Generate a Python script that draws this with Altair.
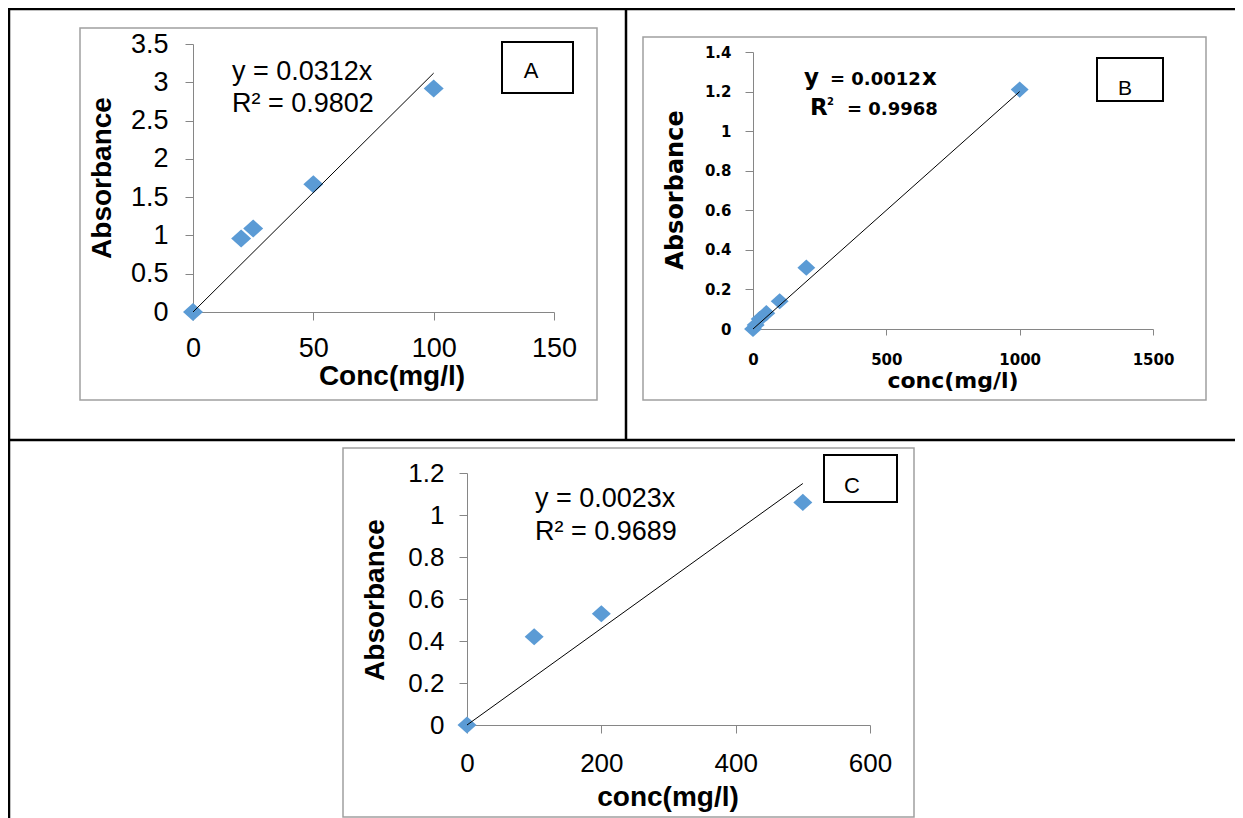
import altair as alt
import pandas as pd

# ---------------- data ----------------
# Panel A
a_conc = [0, 20, 25, 50, 100]
a_abs = [0, 0.96, 1.09, 1.67, 2.92]
a_slope = 0.0312
a_xticks = [0, 50, 100, 150]
a_yticks = [0, 0.5, 1, 1.5, 2, 2.5, 3, 3.5]

# Panel B
b_conc = [0, 10, 25, 50, 100, 200, 1000]
b_abs = [0, 0.02, 0.05, 0.08, 0.14, 0.31, 1.21]
b_slope = 0.0012
b_xticks = [0, 500, 1000, 1500]
b_yticks = [0, 0.2, 0.4, 0.6, 0.8, 1, 1.2, 1.4]

# Panel C
c_conc = [0, 100, 200, 500]
c_abs = [0, 0.42, 0.53, 1.06]
c_slope = 0.0023
c_xticks = [0, 200, 400, 600]
c_yticks = [0, 0.2, 0.4, 0.6, 0.8, 1, 1.2]

# ---------------- layout constants ----------------
W, H = 1227, 810
BLUE = "#5B9BD5"
AXIS_GRAY = "#868686"
FRAME_GRAY = "#a0a0a0"
ARIAL = "Liberation Sans"
TAHOMA = "DejaVu Sans"
DIAMOND = "M-1,0L0,-0.9L1,0L0,0.9Z"

dummy = alt.Data(values=[{"k": 0}])


def panel(conc, ab, slope, xticks, yticks, xrange, yrange, size,
          font, weight, fsize, ytick, ypad, xtick, xpad):
    pts = pd.DataFrame({"conc": conc, "abs": ab})
    xmax = max(conc)
    trend = pd.DataFrame({"conc": [0, xmax], "abs": [0, slope * xmax]})
    xs = alt.Scale(domain=[xticks[0], xticks[-1]], range=xrange, nice=False, zero=False)
    ys = alt.Scale(domain=[yticks[0], yticks[-1]], range=yrange, nice=False, zero=False)
    common = dict(grid=False, domainColor=AXIS_GRAY, tickColor=AXIS_GRAY,
                  domainWidth=1, tickWidth=1, labelFont=font, labelFontSize=fsize,
                  labelFontWeight=weight, labelColor="black", title=None,
                  format="~r", labelOverlap=False, labelFlush=False)
    xaxis = alt.Axis(values=xticks, orient="bottom", offset=yrange[0] - H,
                     tickSize=xtick, labelPadding=xpad, **common)
    yaxis = alt.Axis(values=yticks, orient="left", offset=-xrange[0],
                     tickSize=ytick, labelPadding=ypad, **common)
    p = alt.Chart(pts).mark_point(shape=DIAMOND, filled=True, opacity=1,
                                   color=BLUE, size=size).encode(
        x=alt.X("conc:Q", scale=xs, axis=xaxis),
        y=alt.Y("abs:Q", scale=ys, axis=yaxis),
    )
    l = alt.Chart(trend).mark_line(color="black", strokeWidth=1).encode(
        x=alt.X("conc:Q", scale=xs, axis=None),
        y=alt.Y("abs:Q", scale=ys, axis=None),
    )
    return [p, l]


def txt(s, x, y, size, font=ARIAL, weight="normal", align="left",
        baseline="alphabetic", angle=0):
    return alt.Chart(dummy).mark_text(
        align=align, baseline=baseline, font=font, fontSize=size,
        fontWeight=weight, angle=angle, color="black"
    ).encode(x=alt.value(x), y=alt.value(y), text=alt.value(s))


def box(x1, y1, x2, y2, stroke, width, fill):
    return alt.Chart(dummy).mark_rect(fill=fill, stroke=stroke, strokeWidth=width).encode(
        x=alt.value(x1), x2=alt.value(x2), y=alt.value(y1), y2=alt.value(y2))


def hrule(x1, x2, y, w=2.5):
    return alt.Chart(dummy).mark_rule(color="black", strokeWidth=w).encode(
        x=alt.value(x1), x2=alt.value(x2), y=alt.value(y))


def vrule(x, y1, y2, w=2.5):
    return alt.Chart(dummy).mark_rule(color="black", strokeWidth=w).encode(
        x=alt.value(x), y=alt.value(y1), y2=alt.value(y2))


layers = []
# chart frames
layers += [
    box(72, 20, 589, 392, FRAME_GRAY, 1.5, "transparent"),
    box(635, 29, 1198, 392, FRAME_GRAY, 1.5, "transparent"),
    box(335, 440, 906, 809, FRAME_GRAY, 1.5, "transparent"),
]
# table borders
layers += [
    hrule(0, W, 1),
    vrule(1, 0, H),
    vrule(618, 0, 432),
    hrule(0, W, 432),
]
# label boxes
layers += [
    box(494, 34, 565, 85, "black", 2, "white"),
    box(1089, 50, 1155, 93, "black", 2, "white"),
    box(816, 447, 889, 494, "black", 2, "white"),
    txt("A", 523, 70, 22, align="center"),
    txt("B", 1117, 87, 21, align="center"),
    txt("C", 844, 485, 22, align="center"),
]
# axis titles
layers += [
    txt("Absorbance", 95, 170, 28, weight="bold", align="center", baseline="middle", angle=270),
    txt("Conc(mg/l)", 384, 369, 28, weight="bold", align="center", baseline="middle"),
    txt("Absorbance", 668, 182, 24, font=TAHOMA, weight="bold", align="center", baseline="middle", angle=270),
    txt("conc(mg/l)", 945, 380, 22, font=TAHOMA, weight="bold", align="center"),
    txt("Absorbance", 368, 592, 28, weight="bold", align="center", baseline="middle", angle=270),
    txt("conc(mg/l)", 660, 798, 28, weight="bold", align="center"),
]
# equations
layers += [
    txt("y = 0.0312x", 224, 72, 27),
    txt("R² = 0.9802", 224, 104, 27),
    txt("y", 796, 77, 23, font=TAHOMA, weight="bold"),
    txt("= 0.0012", 822, 77, 18, font=TAHOMA, weight="bold"),
    txt("x", 914, 77, 23, font=TAHOMA, weight="bold"),
    txt("R", 802, 107, 23, font=TAHOMA, weight="bold"),
    txt("2", 819, 97, 10, font=TAHOMA, weight="bold"),
    txt("= 0.9968", 839, 107, 18, font=TAHOMA, weight="bold"),
    txt("y = 0.0023x", 527, 499, 27),
    txt("R² = 0.9689", 527, 532, 27),
]
# data panels
layers += panel(a_conc, a_abs, a_slope, a_xticks, a_yticks, [185, 546], [304, 36], 400,
                ARIAL, "normal", 27, 8, 17, 8, 15)
layers += panel(b_conc, b_abs, b_slope, b_xticks, b_yticks, [745, 1145], [321, 44], 320,
                TAHOMA, "bold", 15, 8, 14, 6, 17)
layers += panel(c_conc, c_abs, c_slope, c_xticks, c_yticks, [459, 862], [717, 465], 361,
                ARIAL, "normal", 26, 8, 15, 8, 17)

chart = alt.layer(*layers).resolve_scale(
    x="independent", y="independent"
).resolve_axis(
    x="independent", y="independent"
).properties(
    width=W, height=H, padding=0, autosize=alt.AutoSizeParams(type="none")
).configure_view(strokeWidth=0).configure(background="white")

chart.save("out.html", embed_options={"renderer": "svg", "actions": False})
